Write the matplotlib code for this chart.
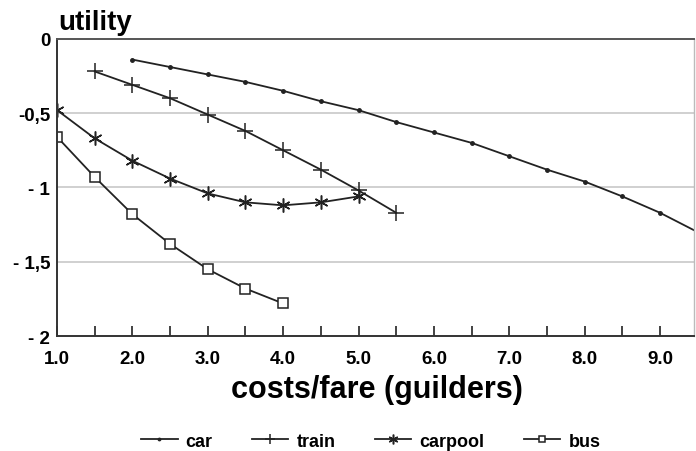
import matplotlib
matplotlib.use("Agg")
import matplotlib.pyplot as plt
from matplotlib.ticker import MultipleLocator, FixedLocator

plt.rcParams['font.family'] = ['Liberation Sans', 'DejaVu Sans']

car_x = [2.0, 2.5, 3.0, 3.5, 4.0, 4.5, 5.0, 5.5, 6.0, 6.5, 7.0, 7.5, 8.0, 8.5, 9.0, 9.5]
car_y = [-0.14, -0.19, -0.24, -0.29, -0.35, -0.42, -0.48, -0.56, -0.63, -0.70, -0.79, -0.88, -0.96, -1.06, -1.17, -1.30]
train_x = [1.5, 2.0, 2.5, 3.0, 3.5, 4.0, 4.5, 5.0, 5.5]
train_y = [-0.22, -0.31, -0.40, -0.51, -0.62, -0.75, -0.88, -1.02, -1.17]
carpool_x = [1.0, 1.5, 2.0, 2.5, 3.0, 3.5, 4.0, 4.5, 5.0]
carpool_y = [-0.48, -0.67, -0.82, -0.94, -1.04, -1.10, -1.12, -1.10, -1.06]
bus_x = [1.0, 1.5, 2.0, 2.5, 3.0, 3.5, 4.0]
bus_y = [-0.66, -0.93, -1.18, -1.38, -1.55, -1.68, -1.78]

x_ticks = [1.0, 2.0, 3.0, 4.0, 5.0, 6.0, 7.0, 8.0, 9.0]
x_tick_labels = ["1.0", "2.0", "3.0", "4.0", "5.0", "6.0", "7.0", "8.0", "9.0"]
y_ticks = [0, -0.5, -1, -1.5, -2]
y_tick_labels = ["0", "-0,5", "- 1", "- 1,5", "- 2"]

fig = plt.figure(figsize=(6.96, 4.52), dpi=100)
ax = fig.add_axes([0.082, 0.254, 0.915, 0.658])

lc = '#222222'
ax.plot(car_x, car_y, color=lc, lw=1.3, marker='o', ms=2.5, label='car')
ax.plot(train_x, train_y, color=lc, lw=1.3, marker='+', ms=11, mew=1.1, label='train')
ax.plot(carpool_x, carpool_y, color=lc, lw=1.3, marker=(6, 2, 0), ms=10, mew=1.1, label='carpool')
ax.plot(bus_x, bus_y, color=lc, lw=1.3, marker='s', ms=7, mfc='white', mew=1.1, label='bus')

ax.set_xlim(1.0, 9.45)
ax.set_ylim(-2, 0)

ax.xaxis.set_major_locator(FixedLocator(x_ticks))
ax.set_xticklabels(x_tick_labels, fontsize=13.5, fontweight='bold')
ax.xaxis.set_minor_locator(MultipleLocator(0.5))
ax.tick_params(axis='x', which='both', direction='in', length=7, width=1.2, colors=lc, pad=10)
ax.tick_params(axis='x', which='major', labelcolor='black')

ax.set_yticks(y_ticks)
ax.set_yticklabels(y_tick_labels, fontsize=13.5, fontweight='bold')
ax.tick_params(axis='y', length=0, pad=5)

for yv in [-0.5, -1, -1.5]:
    ax.axhline(yv, color='#c8c8c8', lw=1.2, zorder=0)

ax.spines['left'].set_color('#333333')
ax.spines['left'].set_linewidth(1.4)
ax.spines['bottom'].set_color('#333333')
ax.spines['bottom'].set_linewidth(1.4)
ax.spines['top'].set_color('#555555')
ax.spines['top'].set_linewidth(1.4)
ax.spines['right'].set_color('#bbbbbb')
ax.spines['right'].set_linewidth(1.0)

fig.text(0.083, 0.95, 'utility', fontsize=20, fontweight='bold', ha='left', va='center')
fig.text(0.542, 0.119, 'costs/fare (guilders)', fontsize=22, fontweight='bold', ha='center', va='baseline')

fig.legend(loc='center', bbox_to_anchor=(0.533, 0.022), ncol=4, frameon=False,
           prop={'weight': 'bold', 'size': 13}, handlelength=2.0, columnspacing=2.2,
           handletextpad=0.45, markerscale=0.7)

fig.savefig('out.png', dpi=100)
